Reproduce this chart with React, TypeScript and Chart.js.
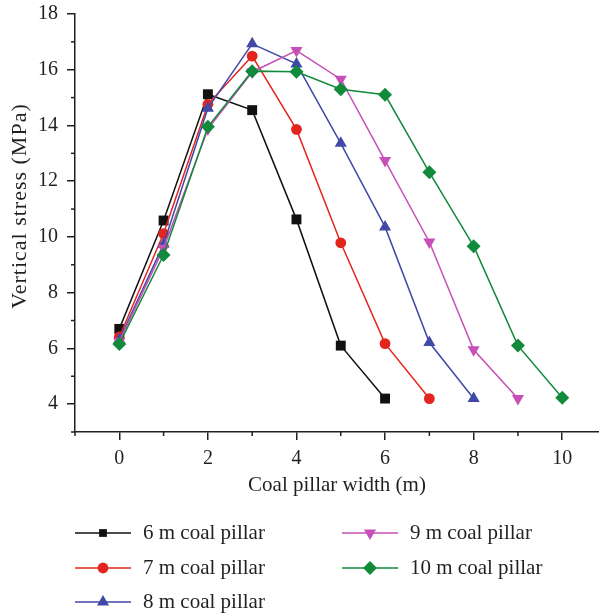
import React, { useEffect, useRef } from "react";
import { Chart, registerables } from "chart.js";

Chart.register(...registerables);

// Coal pillar width (m) at each measuring point
const widths = [0, 1, 2, 3, 4, 5, 6, 7, 8, 9, 10];

// Vertical stress (MPa) across pillars of different widths
const pillar6 = [6.7, 10.59, 15.12, 14.55, 10.63, 6.1, 4.2];
const pillar7 = [6.41, 10.12, 14.76, 16.49, 13.86, 9.79, 6.17, 4.2];
const pillar8 = [6.31, 9.74, 14.62, 16.93, 16.21, 13.36, 10.36, 6.21, 4.2];
const pillar9 = [6.25, 9.59, 13.87, 15.92, 16.69, 15.66, 12.74, 9.82, 5.95, 4.2];
const pillar10 = [6.16, 9.35, 13.95, 15.95, 15.93, 15.3, 15.1, 12.32, 9.67, 6.1, 4.23];

const seriesLabels = [
  "6 m coal pillar",
  "7 m coal pillar",
  "8 m coal pillar",
  "9 m coal pillar",
  "10 m coal pillar",
];
const seriesValues = [pillar6, pillar7, pillar8, pillar9, pillar10];
const seriesColors = ["#111111", "#e3261d", "#4048a8", "#c650b6", "#118a3b"];
const seriesShapes = ["rect", "circle", "triangle", "triangle", "rectRot"];
const seriesRotation = [0, 0, 0, 180, 0];
const seriesRadius = [7, 5.4, 7, 7, 7];

const FONT = "'Liberation Serif', 'Times New Roman', serif";
const INK = "#231f20";

function drawMarker(
  ctx: CanvasRenderingContext2D,
  shape: string,
  rotation: number,
  x: number,
  y: number,
  r: number,
  color: string
) {
  ctx.save();
  ctx.fillStyle = color;
  ctx.translate(x, y);
  ctx.rotate((rotation * Math.PI) / 180);
  ctx.beginPath();
  if (shape === "circle") {
    ctx.arc(0, 0, r, 0, Math.PI * 2);
  } else if (shape === "rect") {
    const s = r * Math.SQRT1_2;
    ctx.rect(-s, -s, 2 * s, 2 * s);
  } else if (shape === "triangle") {
    const side = (3 * r) / Math.sqrt(3);
    const h = (side * Math.sqrt(3)) / 2;
    ctx.moveTo(-side / 2, h / 3);
    ctx.lineTo(side / 2, h / 3);
    ctx.lineTo(0, (-2 * h) / 3);
    ctx.closePath();
  } else {
    ctx.moveTo(0, -r);
    ctx.lineTo(r, 0);
    ctx.lineTo(0, r);
    ctx.lineTo(-r, 0);
    ctx.closePath();
  }
  ctx.fill();
  ctx.restore();
}

// Shorter marks for the odd (minor) ticks, plus the rotated y title and the legend
const decorPlugin = {
  id: "pillarDecor",
  afterDraw(chart: any) {
    const ctx: CanvasRenderingContext2D = chart.ctx;
    const xs = chart.scales.x;
    const ys = chart.scales.y;
    const area = chart.chartArea;
    ctx.save();
    ctx.strokeStyle = INK;
    ctx.lineWidth = 1.5;
    xs.ticks.forEach((t: any) => {
      if (Math.abs(t.value % 2) === 1) {
        const px = xs.getPixelForValue(t.value);
        ctx.beginPath();
        ctx.moveTo(px, area.bottom);
        ctx.lineTo(px, area.bottom + 4);
        ctx.stroke();
      }
    });
    ys.ticks.forEach((t: any) => {
      if (Math.abs(t.value % 2) === 1) {
        const py = ys.getPixelForValue(t.value);
        ctx.beginPath();
        ctx.moveTo(area.left, py);
        ctx.lineTo(area.left - 4, py);
        ctx.stroke();
      }
    });

    // y-axis title
    ctx.save();
    ctx.translate(20, 206);
    ctx.rotate(-Math.PI / 2);
    ctx.fillStyle = INK;
    ctx.font = `22px ${FONT}`;
    (ctx as any).letterSpacing = "1px";
    ctx.textAlign = "center";
    ctx.textBaseline = "middle";
    ctx.fillText("Vertical stress (MPa)", 0, 0);
    ctx.restore();

    // legend: three rows on the left, two on the right
    const slots = [
      { x: 75, y: 533 },
      { x: 75, y: 568 },
      { x: 75, y: 602 },
      { x: 342, y: 533 },
      { x: 342, y: 568 },
    ];
    chart.data.datasets.forEach((ds: any, i: number) => {
      const s = slots[i];
      ctx.strokeStyle = ds.borderColor;
      ctx.lineWidth = 1.5;
      ctx.beginPath();
      ctx.moveTo(s.x, s.y);
      ctx.lineTo(s.x + 56, s.y);
      ctx.stroke();
      drawMarker(
        ctx,
        ds.pointStyle,
        ds.pointRotation,
        s.x + 28,
        s.y,
        ds.pointStyle === "rect" ? 5.5 : ds.pointRadius,
        ds.pointBackgroundColor
      );
      ctx.fillStyle = INK;
      ctx.font = `21px ${FONT}`;
      ctx.textAlign = "left";
      ctx.textBaseline = "middle";
      ctx.fillText(ds.label, s.x + 68, s.y);
    });
    ctx.restore();
  },
};

export default function App() {
  const canvasRef = useRef<HTMLCanvasElement | null>(null);

  useEffect(() => {
    if (!canvasRef.current) return;
    const datasets = seriesValues.map((vals, i) => ({
      label: seriesLabels[i],
      data: vals.map((v, j) => ({ x: widths[j], y: v })),
      borderColor: seriesColors[i],
      backgroundColor: seriesColors[i],
      pointBackgroundColor: seriesColors[i],
      pointBorderColor: seriesColors[i],
      pointBorderWidth: 0,
      pointStyle: seriesShapes[i],
      pointRotation: seriesRotation[i],
      pointRadius: seriesRadius[i],
      borderWidth: 1.5,
      tension: 0,
      clip: false,
      order: seriesValues.length - 1 - i,
    }));

    const chart = new Chart(canvasRef.current, {
      type: "line",
      data: { datasets },
      plugins: [decorPlugin],
      options: {
        animation: false,
        responsive: false,
        devicePixelRatio: 1,
        layout: { autoPadding: false, padding: { top: 14, bottom: 104, left: 0, right: 0 } },
        plugins: {
          legend: { display: false },
          tooltip: { enabled: false },
        },
        scales: {
          x: {
            type: "linear",
            min: -1,
            max: 10.83,
            afterFit: (scale: any) => {
              scale.height = 80;
              scale.paddingLeft = 0;
              scale.paddingRight = 0;
            },
            border: { display: true, color: INK, width: 1.5 },
            grid: {
              display: true,
              drawOnChartArea: false,
              drawTicks: true,
              tickLength: 8,
              lineWidth: 1.5,
              tickColor: (c: any) =>
                c.tick && Math.abs(c.tick.value % 2) === 1 ? "rgba(0,0,0,0)" : INK,
            },
            ticks: {
              stepSize: 1,
              includeBounds: false,
              autoSkip: false,
              maxRotation: 0,
              maxTicksLimit: 100,
              padding: 7,
              color: INK,
              font: { family: FONT, size: 20 },
              callback: (v: any) => (Math.abs(Number(v) % 2) === 1 ? "" : String(v)),
            },
            title: {
              display: true,
              text: "Coal pillar width (m)",
              color: INK,
              font: { family: FONT, size: 21 },
              padding: { top: 0, bottom: 13.5 },
            },
          },
          y: {
            type: "linear",
            min: 3,
            max: 18,
            afterFit: (scale: any) => {
              scale.width = 75;
              scale.paddingTop = 0;
              scale.paddingBottom = 0;
            },
            border: { display: true, color: INK, width: 1.5 },
            grid: {
              display: true,
              drawOnChartArea: false,
              drawTicks: true,
              tickLength: 8,
              lineWidth: 1.5,
              tickColor: (c: any) =>
                c.tick && Math.abs(c.tick.value % 2) === 1 ? "rgba(0,0,0,0)" : INK,
            },
            ticks: {
              stepSize: 1,
              autoSkip: false,
              maxTicksLimit: 100,
              padding: 9,
              color: INK,
              font: { family: FONT, size: 20 },
              callback: (v: any) => (Math.abs(Number(v) % 2) === 1 ? "" : String(v)),
            },
          },
        },
      },
    });
    return () => chart.destroy();
  }, []);

  return (
    <div style={{ position: "absolute", left: 0, top: 0, width: 599, height: 616, background: "#fff" }}>
      <canvas ref={canvasRef} width={599} height={616} style={{ display: "block" }} />
    </div>
  );
}
